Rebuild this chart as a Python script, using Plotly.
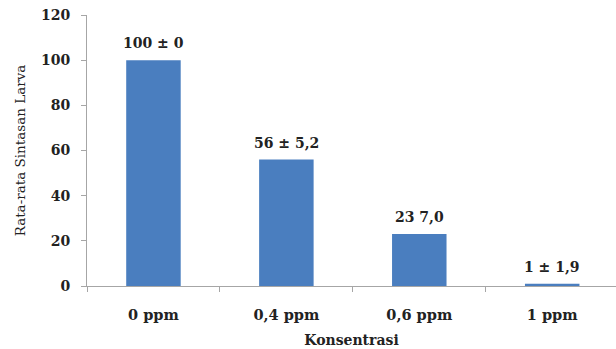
import plotly.graph_objects as go

categories = ["0 ppm", "0,4 ppm", "0,6 ppm", "1 ppm"]
values = [100, 56, 23, 1]
labels = ["100 ± 0", "56 ± 5,2", "23 7,0", "1 ± 1,9"]
y_ticks = [0, 20, 40, 60, 80, 100, 120]

font_family = "DejaVu Serif, Liberation Serif, serif"
txt = "#222222"

fig = go.Figure()
fig.add_trace(go.Bar(
    x=categories, y=values,
    marker=dict(color="#4A7EBF", line=dict(width=0)),
    width=0.41,
))

for c, v, t in zip(categories, values, labels):
    fig.add_annotation(x=c, y=v, text=t, showarrow=False,
                       yanchor="bottom", yshift=7,
                       font=dict(family=font_family, size=14, color=txt, weight="bold"))

fig.update_layout(
    width=616, height=349,
    margin=dict(l=87, r=0, t=15, b=63),
    paper_bgcolor="white", plot_bgcolor="white",
    showlegend=False,
    font=dict(family=font_family, color=txt),
    bargap=0.6,
)
fig.update_xaxes(
    range=[-0.5, 3.48],
    showline=True, linecolor="#A6A6A6", linewidth=1,
    ticks="outside", ticklen=5, tickcolor="#A6A6A6",
    tickson="boundaries",
    tickfont=dict(family=font_family, size=14.5, color=txt, weight="bold"),
    ticklabelstandoff=16,
    title=dict(text="Konsentrasi", font=dict(family=font_family, size=14, color=txt, weight="bold"), standoff=12),
    showgrid=False,
)
fig.update_yaxes(
    range=[0, 120], tickvals=y_ticks,
    showline=True, linecolor="#A6A6A6", linewidth=1,
    ticks="outside", ticklen=5, tickcolor="#A6A6A6",
    tickfont=dict(family=font_family, size=14, color=txt, weight="bold"),
    ticklabelstandoff=8,
    title=dict(text="Rata-rata Sintasan Larva", font=dict(family=font_family, size=13.5, color=txt), standoff=12),
    showgrid=False, zeroline=False,
)

fig.write_html("out.html")
